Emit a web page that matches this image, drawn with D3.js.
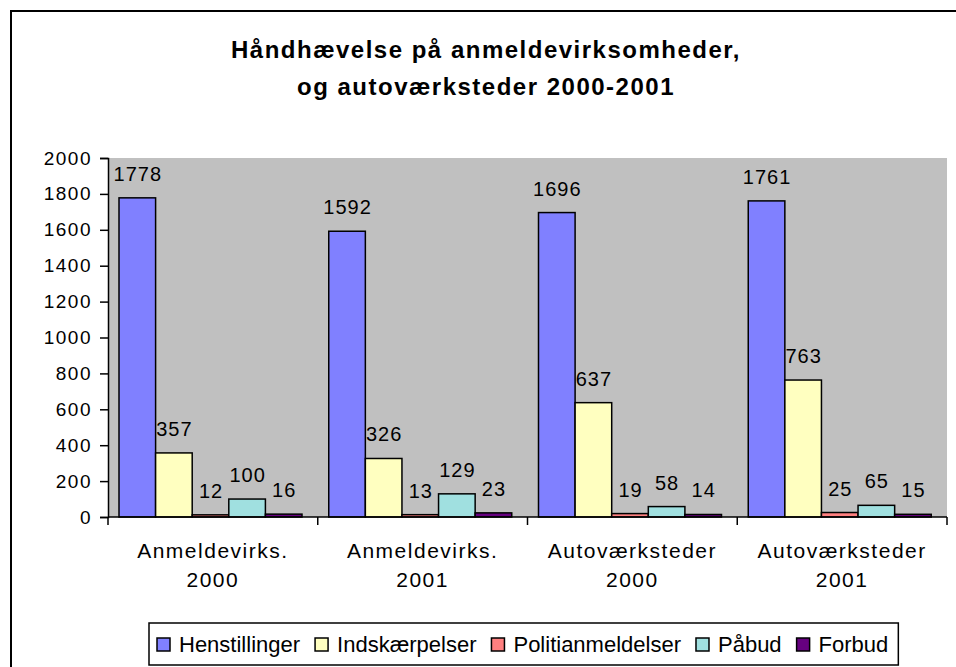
<!DOCTYPE html>
<html>
<head>
  <meta charset="utf-8">
  <title>Håndhævelse</title>
  <script src="https://d3js.org/d3.v7.min.js"></script>
  <style>
    body { margin: 0; background: #fff; }
    text { font-family: "Liberation Sans", Arial, sans-serif; fill: #000; }
  </style>
</head>
<body>
<script>
// data
var categories = [["Anmeldevirks.", "2000"], ["Anmeldevirks.", "2001"], ["Autoværksteder", "2000"], ["Autoværksteder", "2001"]];
var series = ["Henstillinger", "Indskærpelser", "Politianmeldelser", "Påbud", "Forbud"];
var colors = ["#8080ff", "#ffffc0", "#ff8080", "#a0e0e0", "#660080"];
var henstillinger = [1778, 1592, 1696, 1761];
var indskaerpelser = [357, 326, 637, 763];
var politianmeldelser = [12, 13, 19, 25];
var paabud = [100, 129, 58, 65];
var forbud = [16, 23, 14, 15];
var yTicks = [0, 200, 400, 600, 800, 1000, 1200, 1400, 1600, 1800, 2000];

var values = [henstillinger, indskaerpelser, politianmeldelser, paabud, forbud];

var width = 956, height = 667;
var svg = d3.select("body").append("svg").attr("width", width).attr("height", height);

// outer frame (runs off right/bottom)
svg.append("rect").attr("x", 11).attr("y", 11).attr("width", 960).attr("height", 680)
  .attr("fill", "#fff").attr("stroke", "#000").attr("stroke-width", 2);

// title
var title = svg.append("text").attr("text-anchor", "middle")
  .style("font-weight", "bold").style("font-size", "24px").style("letter-spacing", "1.5px");
title.append("tspan").attr("x", 486).attr("y", 58).text("Håndhævelse på anmeldevirksomheder,");
title.append("tspan").attr("x", 486).attr("y", 95).text("og autoværksteder 2000-2001");

var plotL = 108, plotR = 947, plotT = 158, plotB = 517;

var x0 = d3.scaleBand().domain(d3.range(categories.length)).range([plotL, plotR]);
var x1 = d3.scaleBand().domain(d3.range(series.length)).range([11, 194]);
var y = d3.scaleLinear().domain([0, 2000]).range([plotB, plotT]);

// plot area
svg.append("rect").attr("x", plotL).attr("y", plotT).attr("width", plotR - plotL).attr("height", plotB - plotT)
  .attr("fill", "#c0c0c0");

// bars
var groups = svg.selectAll("g.cat").data(categories).enter().append("g")
  .attr("class", "cat")
  .attr("transform", function(d, i) { return "translate(" + x0(i) + ",0)"; });

groups.each(function(c, ci) {
  var g = d3.select(this);
  series.forEach(function(s, si) {
    var v = values[si][ci];
    g.append("rect")
      .attr("x", x1(si)).attr("y", y(v))
      .attr("width", x1.bandwidth()).attr("height", plotB - y(v))
      .attr("fill", colors[si]).attr("stroke", "#000").attr("stroke-width", 1.5);
    g.append("text").attr("text-anchor", "middle")
      .attr("x", x1(si) + x1.bandwidth() / 2 + 0.5).attr("y", y(v) - 17)
      .style("font-size", "20px").style("letter-spacing", "1px").text(v);
  });
});

// y axis
var yAxis = svg.append("g").attr("transform", "translate(" + plotL + ",0)")
  .call(d3.axisLeft(y).tickValues(yTicks).tickSize(8).tickPadding(8).tickFormat(d3.format("d")));
yAxis.select(".domain").attr("stroke-width", 1.5);
yAxis.selectAll(".tick line").attr("stroke-width", 1.5);
yAxis.selectAll("text").style("font-size", "19px").style("letter-spacing", "1.5px")
  .style("font-family", "'Liberation Sans', Arial, sans-serif");

// x axis
var xAxis = svg.append("g").attr("transform", "translate(0," + plotB + ")");
xAxis.append("line").attr("x1", plotL).attr("x2", plotR).attr("stroke", "#000").attr("stroke-width", 1.5);
var edges = x0.domain().map(function(i) { return x0(i); }).concat([plotR]);
xAxis.selectAll("line.tk").data(edges).enter().append("line")
  .attr("x1", function(d) { return d; }).attr("x2", function(d) { return d; })
  .attr("y1", 0).attr("y2", 8).attr("stroke", "#000").attr("stroke-width", 1.5);
categories.forEach(function(c, i) {
  var t = xAxis.append("text").attr("text-anchor", "middle")
    .style("font-size", "21px").style("letter-spacing", "1.5px");
  t.append("tspan").attr("x", x0(i) + x0.bandwidth() / 2).attr("y", 41).text(c[0]);
  t.append("tspan").attr("x", x0(i) + x0.bandwidth() / 2).attr("y", 70).text(c[1]);
});

// legend
var legend = svg.append("g");
var box = legend.append("rect").attr("x", 149).attr("y", 623).attr("width", 750).attr("height", 42)
  .attr("fill", "#fff").attr("stroke", "#000").attr("stroke-width", 1.5);
var lx = 157;
series.forEach(function(s, i) {
  legend.append("rect").attr("x", lx).attr("y", 638).attr("width", 13).attr("height", 13)
    .attr("fill", colors[i]).attr("stroke", "#000").attr("stroke-width", 1.5);
  var t = legend.append("text").attr("x", lx + 22).attr("y", 652).style("font-size", "22px").text(s);
  lx += 22 + t.node().getComputedTextLength() + 15;
});
box.attr("width", lx - 149 - 5);
</script>
</body>
</html>
